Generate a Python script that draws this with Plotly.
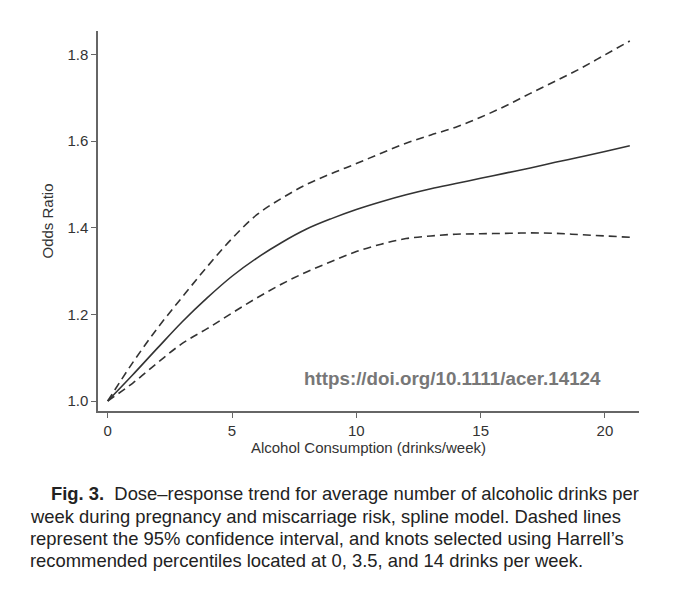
import plotly.graph_objects as go

# drinks per week
drinks = [0, 1, 2, 3, 4, 5, 6, 7, 8, 9, 10, 11, 12, 13, 14, 15, 16, 17, 18, 19, 20, 21]
odds_ratio = [1.0, 1.06, 1.122, 1.183, 1.238, 1.288, 1.33, 1.366, 1.397, 1.421, 1.442,
              1.46, 1.476, 1.49, 1.502, 1.514, 1.526, 1.538, 1.551, 1.563, 1.576, 1.589]
ci_upper = [1.0, 1.088, 1.168, 1.24, 1.31, 1.375, 1.43, 1.468, 1.5, 1.525, 1.548,
            1.572, 1.595, 1.614, 1.632, 1.655, 1.681, 1.71, 1.738, 1.767, 1.799, 1.831]
ci_lower = [1.0, 1.041, 1.088, 1.133, 1.167, 1.203, 1.238, 1.27, 1.298, 1.322, 1.345,
            1.362, 1.375, 1.381, 1.385, 1.386, 1.387, 1.388, 1.387, 1.384, 1.381, 1.378]

x_ticks = [0, 5, 10, 15, 20]
y_ticks = [1.0, 1.2, 1.4, 1.6, 1.8]

caption = [
    "<b>Fig. 3.</b>  Dose\u2013response trend for average number of alcoholic drinks per",
    "week during pregnancy and miscarriage risk, spline model. Dashed lines",
    "represent the 95% confidence interval, and knots selected using Harrell\u2019s",
    "recommended percentiles located at 0, 3.5, and 14 drinks per week.",
]

# page body has an 8px margin, so the figure is drawn 8px smaller and offset
OFF = 8
W, H = 680 - OFF, 591 - OFF
L, R, T, B = 98 - OFF, 41, 31 - OFF, 180
pw, ph = W - L - R, H - T - B


def px(x):
    # page pixel -> paper fraction
    return (x - OFF - L) / pw


def py(y):
    return (H - B - (y - OFF)) / ph


line_col = "#333333"
dash = "8px,5px"

fig = go.Figure()
fig.add_trace(go.Scatter(x=drinks, y=ci_upper, mode="lines",
                         line=dict(color=line_col, width=1.6, dash=dash, shape="spline")))
fig.add_trace(go.Scatter(x=drinks, y=odds_ratio, mode="lines",
                         line=dict(color=line_col, width=1.6, shape="spline")))
fig.add_trace(go.Scatter(x=drinks, y=ci_lower, mode="lines",
                         line=dict(color=line_col, width=1.6, dash=dash, shape="spline")))

annotations = [dict(text="<b>https://doi.org/10.1111/acer.14124</b>", xref="paper", yref="paper",
                    x=px(302), y=py(378), xanchor="left", yanchor="middle", showarrow=False,
                    font=dict(family="Liberation Sans, Arial", size=18.8, color="#777777"))]

caption_y = [493, 516, 538, 560]
caption_x = [49, 28, 28, 28]
for txt, cx, cy in zip(caption, caption_x, caption_y):
    annotations.append(dict(text=txt, xref="paper", yref="paper", x=px(cx), y=py(cy),
                            xanchor="left", yanchor="middle", showarrow=False,
                            font=dict(family="Liberation Sans, Arial", size=18.4, color="#222222")))

fig.update_layout(
    width=W, height=H,
    margin=dict(l=L, r=R, t=T, b=B),
    paper_bgcolor="white", plot_bgcolor="white",
    showlegend=False,
    font=dict(family="Liberation Sans, Arial", size=15, color="#333333"),
    annotations=annotations,
)

fig.update_xaxes(
    range=[-0.39, 21.37], tickvals=x_ticks, showgrid=False, zeroline=False,
    showline=True, linecolor="#666666", linewidth=1.5,
    ticks="outside", ticklen=5, tickcolor="#666666", tickwidth=1.2,
    title=dict(text="Alcohol Consumption (drinks/week)", standoff=2,
               font=dict(size=15, color="#333333")),
)
fig.update_yaxes(
    range=[0.977, 1.854], tickvals=y_ticks, tickformat=".1f", showgrid=False, zeroline=False,
    showline=True, linecolor="#666666", linewidth=1.5,
    ticks="outside", ticklen=5, tickcolor="#666666", tickwidth=1.2,
    title=dict(text="Odds Ratio", standoff=10, font=dict(size=15, color="#333333")),
)

fig.write_html("out.html")
